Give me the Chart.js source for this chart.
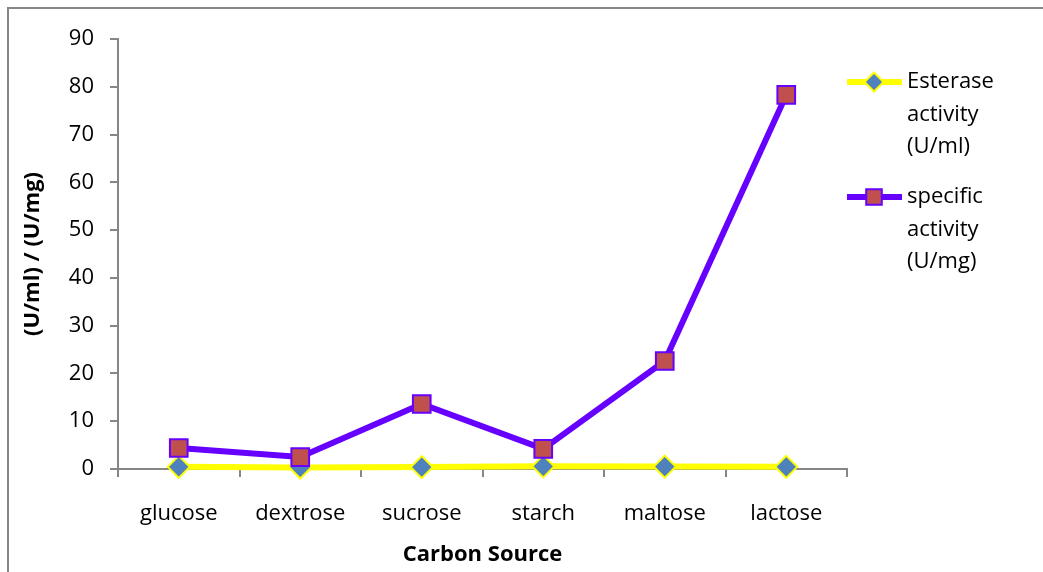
<!DOCTYPE html>
<html>
<head>
<meta charset="utf-8">
<script src="https://cdn.jsdelivr.net/npm/chart.js@4/dist/chart.umd.min.js"></script>
<style>
  html, body { margin: 0; padding: 0; background: #fff; }
  canvas { display: block; }
</style>
</head>
<body>
<canvas id="chart" width="1043" height="572"></canvas>
<script>
const carbonSources = ['glucose', 'dextrose', 'sucrose', 'starch', 'maltose', 'lactose'];
const esteraseActivity = [0.45, 0.3, 0.4, 0.55, 0.5, 0.45];
const specificActivity = [4.4, 2.5, 13.6, 4.2, 22.6, 78.3];
const yTicks = [0, 10, 20, 30, 40, 50, 60, 70, 80, 90];

const fontFamily = '"Open Sans", sans-serif';
const fontSize = 22;
const axisGray = '#868686';

// legend on the right, with wrapped labels
const sideLegend = {
    id: 'sideLegend',
    afterDraw(chart) {
        const ctx = chart.ctx;
        const entries = [
            { ds: chart.data.datasets[0], y: 82, lines: ['Esterase', 'activity', '(U/ml)'] },
            { ds: chart.data.datasets[1], y: 197, lines: ['specific', 'activity', '(U/mg)'] }
        ];
        ctx.save();
        entries.forEach(e => {
            ctx.strokeStyle = e.ds.borderColor;
            ctx.lineWidth = e.ds.borderWidth;
            ctx.beginPath();
            ctx.moveTo(847, e.y);
            ctx.lineTo(902, e.y);
            ctx.stroke();
            ctx.fillStyle = e.ds.pointBackgroundColor;
            ctx.strokeStyle = e.ds.pointBorderColor;
            ctx.lineWidth = e.ds.pointBorderWidth;
            Chart.helpers.drawPoint(ctx, { pointStyle: e.ds.pointStyle, radius: e.ds.pointRadius - 1.5, borderWidth: e.ds.pointBorderWidth }, 874, e.y);
            ctx.fillStyle = '#000';
            ctx.font = fontSize + 'px ' + fontFamily;
            ctx.textBaseline = 'middle';
            ctx.textAlign = 'left';
            e.lines.forEach((t, i) => ctx.fillText(t, 907, e.y + i * 32.5));
        });
        ctx.restore();
    }
};

// gray outer frame
const frame = {
    id: 'frame',
    beforeDraw(chart) {
        const ctx = chart.ctx;
        ctx.save();
        ctx.strokeStyle = axisGray;
        ctx.lineWidth = 2;
        ctx.strokeRect(8, 8, 1100, 600);
        ctx.restore();
    }
};

new Chart(document.getElementById('chart'), {
    type: 'line',
    data: {
        labels: carbonSources,
        datasets: [{
            label: 'Esterase activity (U/ml)',
            data: esteraseActivity,
            borderColor: '#FFFF00',
            borderWidth: 6,
            pointStyle: 'rectRot',
            pointRadius: 11,
            pointBackgroundColor: '#4F81BD',
            pointBorderColor: '#FFFF00',
            pointBorderWidth: 2,
            tension: 0,
            clip: false,
            order: 1
        }, {
            label: 'specific activity (U/mg)',
            data: specificActivity,
            borderColor: '#6600FF',
            borderWidth: 6,
            pointStyle: 'rect',
            pointRadius: 12.5,
            pointBackgroundColor: '#C0504D',
            pointBorderColor: '#6600FF',
            pointBorderWidth: 2,
            tension: 0,
            clip: false,
            order: 0
        }]
    },
    options: {
        responsive: false,
        animation: false,
        layout: { padding: { top: 39, right: 196, bottom: 0, left: 0 } },
        plugins: {
            legend: { display: false },
            tooltip: { enabled: false }
        },
        scales: {
            x: {
                offset: true,
                grid: { offset: true, drawOnChartArea: false, drawTicks: true, tickLength: 8, color: axisGray, lineWidth: 2 },
                border: { color: axisGray, width: 2 },
                ticks: { color: '#000', font: { family: fontFamily, size: fontSize }, padding: 24 },
                title: { display: true, text: 'Carbon Source', color: '#000', font: { family: fontFamily, size: fontSize, weight: 'bold' }, padding: { top: 4 } },
                afterFit(scale) { scale.height = 103; }
            },
            y: {
                min: 0,
                max: 90,
                afterBuildTicks(scale) { scale.ticks = yTicks.map(v => ({ value: v })); },
                grid: { drawOnChartArea: false, drawTicks: true, tickLength: 8, color: axisGray, lineWidth: 2 },
                border: { color: axisGray, width: 2 },
                ticks: { color: '#000', font: { family: fontFamily, size: fontSize }, padding: 16 },
                title: { display: true, text: '(U/ml) / (U/mg)', color: '#000', font: { family: fontFamily, size: fontSize, weight: 'bold' }, padding: { top: 20 } },
                afterFit(scale) { scale.width = 118; }
            }
        }
    },
    plugins: [frame, sideLegend]
});
</script>
</body>
</html>
